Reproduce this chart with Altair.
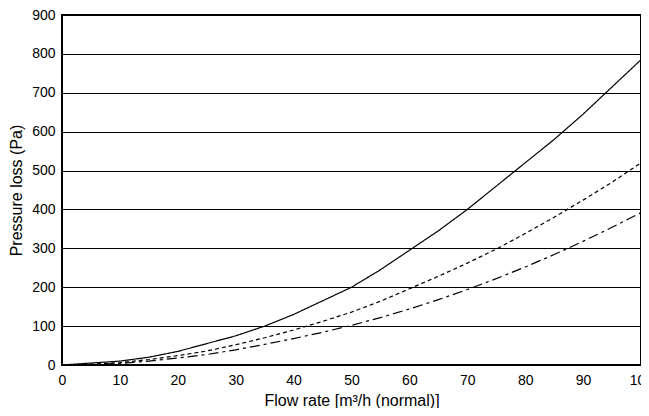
import altair as alt
import pandas as pd

flow = [0, 5, 10, 15, 20, 25, 30, 35, 40, 45, 50, 55, 60, 65, 70, 75, 80, 85, 90, 95, 100]
solid = [0, 5, 10, 20, 35, 55, 75, 100, 130, 165, 200, 245, 295, 345, 400, 460, 520, 580, 645, 715, 785]
dashed = [0, 2, 6, 14, 24, 36, 52, 70, 90, 112, 136, 164, 196, 228, 262, 298, 338, 380, 424, 470, 520]
dashdot = [0, 1, 4, 10, 18, 27, 39, 53, 68, 84, 102, 122, 144, 168, 194, 222, 252, 284, 318, 354, 392]

series_names = ["A", "B", "C"]
rows = []
for name, vals in zip(series_names, [solid, dashed, dashdot]):
    for x, y in zip(flow, vals):
        rows.append({"flow": x, "loss": y, "series": name})
df = pd.DataFrame(rows)

font = "Liberation Sans"

chart = alt.Chart(df).mark_line(color="black", strokeWidth=1.2).encode(
    x=alt.X("flow:Q", scale=alt.Scale(domain=[0, 100], nice=False),
            axis=alt.Axis(title="Flow rate [m³/h (normal)]", values=list(range(0, 101, 10)),
                          grid=False, ticks=False, tickSize=0, labelPadding=8,
                          titlePadding=5, domain=False, labelFlush=False)),
    y=alt.Y("loss:Q", scale=alt.Scale(domain=[0, 900], nice=False),
            axis=alt.Axis(title="Pressure loss (Pa)", values=list(range(0, 901, 100)),
                          grid=True, gridColor="black", gridWidth=1, gridOpacity=1,
                          ticks=False, tickSize=0, labelPadding=7, titlePadding=7,
                          domain=False, labelFlush=False)),
    strokeDash=alt.StrokeDash("series:N", scale=alt.Scale(domain=series_names,
                              range=[[1, 0], [4, 3], [10, 4, 3, 4]]), legend=None),
    detail="series:N",
).properties(
    width=579, height=350,
    autosize=alt.AutoSizeParams(type="none"),
    padding={"left": 54, "top": 7, "right": 0, "bottom": 43},
).configure_view(
    stroke="black", strokeWidth=2
).configure_axis(
    labelFont=font, titleFont=font, labelFontSize=14, titleFontSize=16,
    labelColor="black", titleColor="black", titleFontWeight="normal"
)

chart.save("out.html", embed_options={"renderer": "svg", "actions": False})
